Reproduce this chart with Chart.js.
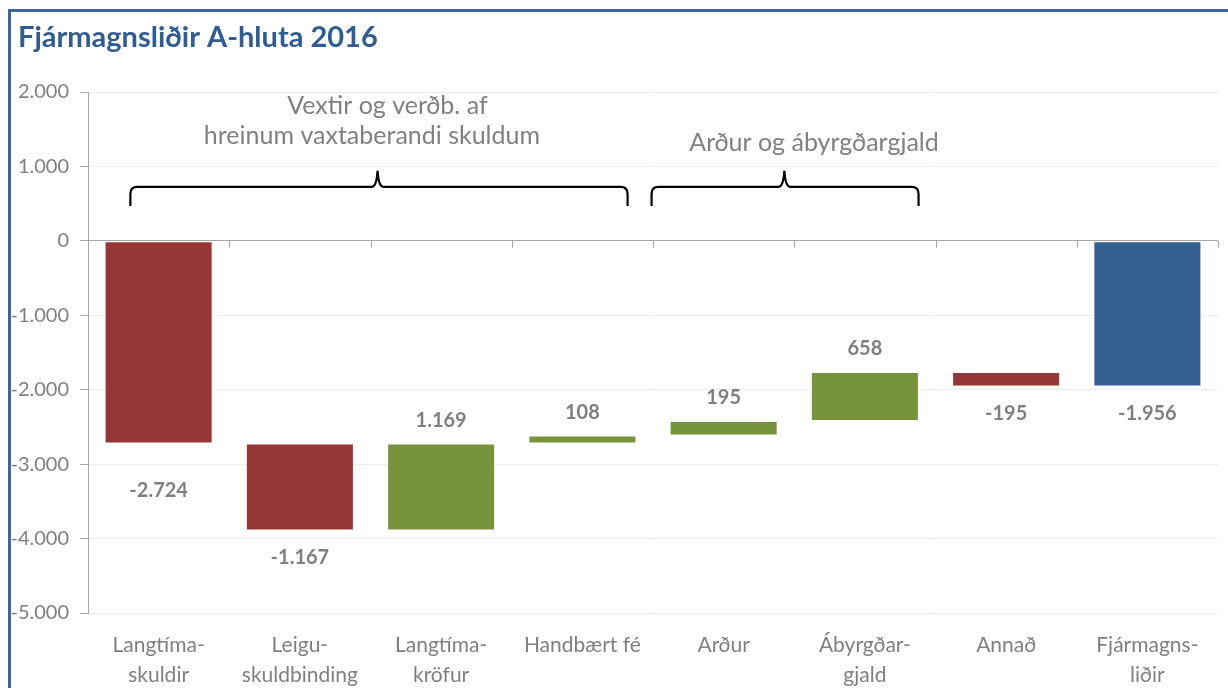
<!DOCTYPE html>
<html>
<head>
<meta charset="utf-8">
<script src="https://cdn.jsdelivr.net/npm/chart.js@4/dist/chart.umd.min.js"></script>
<style>
  html, body { margin: 0; padding: 0; background: #ffffff; }
  #wrap { position: relative; width: 1228px; height: 688px; }
  #frame { position: absolute; left: 8px; top: 9px; right: 0; bottom: 0;
           border-top: 3px solid #3b679c; border-left: 3px solid #3b679c; pointer-events: none; }
</style>
</head>
<body>
<div id="wrap">
  <canvas id="c" width="1228" height="688"></canvas>
  <div id="frame"></div>
</div>
<script>
const titleText = 'Fjármagnsliðir A-hluta 2016';
const categories = [
  ['Langtíma-', 'skuldir'],
  ['Leigu-', 'skuldbinding'],
  ['Langtíma-', 'kröfur'],
  'Handbært fé',
  'Arður',
  ['Ábyrgðar-', 'gjald'],
  'Annað',
  ['Fjármagns-', 'liðir']
];
const changes = [-2724, -1167, 1169, 108, 195, 658, -195, -1956];
const isTotal = [false, false, false, false, false, false, false, true];
const yTicks = [2000, 1000, 0, -1000, -2000, -3000, -4000, -5000];
const groupNotes = [
  { lines: ['Vextir og verðb. af', 'hreinum vaxtaberandi skuldum'], from: -0.2, to: 3.32, tip: 1.55, textX: [1.62, 1.51] },
  { lines: ['Arður og ábyrgðargjald'], from: 3.49, to: 5.38, tip: 4.43, textX: [4.64] }
];

const RED = '#953735', GREEN = '#77933c', BLUE = '#376092';

// floating bars for the waterfall, built from the change values
let running = 0;
const ranges = changes.map((v, i) => {
  if (isTotal[i]) { return [0, v]; }
  const start = running; running += v; return [start, running];
});
const colors = changes.map((v, i) => isTotal[i] ? BLUE : (v < 0 ? RED : GREEN));

function fmt(v) {
  const s = String(Math.abs(Math.round(v))).replace(/\B(?=(\d{3})+(?!\d))/g, '.');
  return (v < 0 ? '-' : '') + s;
}

const FONT = 'Lato, "Open Sans", sans-serif';

const extras = {
  id: 'extras',
  beforeDatasetsDraw(chart) {
    const { ctx, scales: { x, y } } = chart;
    const y0 = y.getPixelForValue(0);
    ctx.save();
    ctx.strokeStyle = '#a6a6a6';
    ctx.lineWidth = 1;
    ctx.beginPath();
    for (let k = 0; k <= categories.length; k++) {
      const px = Math.round(x.getPixelForValue(k - 0.5)) + 0.5;
      ctx.moveTo(px, y0); ctx.lineTo(px, y0 + 7);
    }
    ctx.stroke();
    ctx.restore();
  },
  afterDatasetsDraw(chart) {
    const { ctx, scales: { x, y } } = chart;
    ctx.save();
    // title
    ctx.fillStyle = '#2f5c93';
    ctx.font = 'bold 29px ' + FONT;
    ctx.textAlign = 'left';
    ctx.textBaseline = 'middle';
    ctx.fillText(titleText, 18, 38);

    // data labels
    ctx.font = 'bold 20px ' + FONT;
    ctx.fillStyle = '#7f7f7f';
    ctx.textAlign = 'center';
    const meta = chart.getDatasetMeta(0);
    changes.forEach((v, i) => {
      const bar = meta.data[i];
      const top = Math.min(bar.y, bar.base), bottom = Math.max(bar.y, bar.base);
      let py;
      if (v < 0) py = bottom + (i === 0 ? 47 : 27);
      else py = top - 23;
      ctx.fillText(fmt(v), bar.x, py);
    });

    // group braces and notes
    ctx.strokeStyle = '#000000';
    ctx.lineWidth = 2.2;
    const yTop = y.getPixelForValue(725), yEnd = y.getPixelForValue(470), yTip = y.getPixelForValue(940);
    groupNotes.forEach(g => {
      const x1 = x.getPixelForValue(g.from), x2 = x.getPixelForValue(g.to), xc = x.getPixelForValue(g.tip);
      const r = 7;
      ctx.beginPath();
      ctx.moveTo(x1, yEnd);
      ctx.lineTo(x1, yTop + r);
      ctx.quadraticCurveTo(x1, yTop, x1 + r, yTop);
      ctx.lineTo(xc - 6, yTop);
      ctx.quadraticCurveTo(xc - 1, yTop, xc, yTip);
      ctx.quadraticCurveTo(xc + 1, yTop, xc + 6, yTop);
      ctx.lineTo(x2 - r, yTop);
      ctx.quadraticCurveTo(x2, yTop, x2, yTop + r);
      ctx.lineTo(x2, yEnd);
      ctx.stroke();

      ctx.font = '25px ' + FONT;
      ctx.fillStyle = '#808080';
      ctx.textAlign = 'center';
      ctx.textBaseline = 'middle';
      if (g.lines.length === 2) {
        ctx.fillText(g.lines[0], x.getPixelForValue(g.textX[0]), y.getPixelForValue(1814));
        ctx.fillText(g.lines[1], x.getPixelForValue(g.textX[1]), y.getPixelForValue(1411));
      } else {
        ctx.fillText(g.lines[0], x.getPixelForValue(g.textX[0]), y.getPixelForValue(1317));
      }
    });
    ctx.restore();
  }
};

new Chart(document.getElementById('c'), {
  type: 'bar',
  data: {
    labels: categories,
    datasets: [{
      data: ranges,
      backgroundColor: colors,
      borderColor: 'rgba(255,255,255,0.5)',
      borderWidth: 1,
      borderSkipped: false,
      barPercentage: 0.765,
      categoryPercentage: 1.0
    }]
  },
  options: {
    responsive: false,
    animation: false,
    layout: { padding: { top: 92, right: 10, left: 0, bottom: 0 } },
    plugins: { legend: { display: false }, title: { display: false }, tooltip: { enabled: false } },
    scales: {
      x: {
        grid: { display: false, drawTicks: false },
        border: { display: false },
        ticks: { color: '#7f7f7f', font: { family: FONT, size: 21, lineHeight: 1.43 }, padding: 17, maxRotation: 0, autoSkip: false },
        afterFit(s) { s.height = 75; }
      },
      y: {
        min: -5000, max: 2000,
        afterBuildTicks(s) { s.ticks = yTicks.map(v => ({ value: v })); },
        grid: {
          color: ctx => (ctx.tick && ctx.tick.value === 0) ? '#a6a6a6' : '#ececec',
          tickColor: '#a6a6a6',
          tickLength: 8,
          lineWidth: 1
        },
        border: { display: true, color: '#a6a6a6', width: 1 },
        ticks: { color: '#7f7f7f', font: { family: FONT, size: 20 }, padding: 11, callback: v => fmt(v) },
        afterFit(s) { s.width = 88; }
      }
    }
  },
  plugins: [extras]
});
</script>
</body>
</html>
